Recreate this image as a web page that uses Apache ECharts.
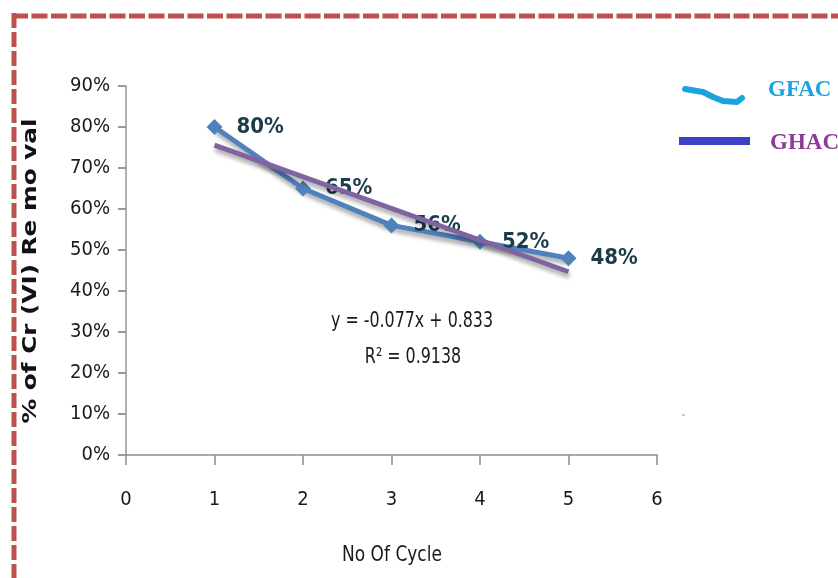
<!DOCTYPE html>
<html><head><meta charset="utf-8">
<script src="https://cdn.jsdelivr.net/npm/echarts@6/dist/echarts.min.js"></script>
<style>html,body{margin:0;padding:0;background:#fff;}#c{width:838px;height:578px;}</style>
</head><body><div id="c"></div>
<script>
const cycles = [1, 2, 3, 4, 5];
const gfacRemoval = [0.80, 0.65, 0.56, 0.52, 0.48];
const trendX = [1, 5];
const trendY = [0.756, 0.447];
const yTicks = ['0%','10%','20%','30%','40%','50%','60%','70%','80%','90%'];
const equationText = 'y = -0.077x + 0.833';
const r2Text = 'R² = 0.9138';
const legendNames = ['GFAC', 'GHAC'];

const NARROW = "'DejaVu Sans Condensed','Liberation Sans Narrow',sans-serif";
const chart = echarts.init(document.getElementById('c'), null, {renderer:'canvas'});
const shadow = {shadowColor:'rgba(0,0,0,0.35)', shadowBlur:4, shadowOffsetY:4, shadowOffsetX:1};
chart.setOption({
  animation:false,
  grid:{left:126, right:181, top:86, bottom:123},
  xAxis:{type:'value', min:0, max:6, interval:1,
    axisLine:{lineStyle:{color:'#8c8c8c', width:1.5}},
    axisTick:{show:true, length:10, lineStyle:{color:'#8c8c8c', width:1.5}},
    splitLine:{show:false},
    axisLabel:{margin:35, color:'#1a1a1a', fontSize:20, fontFamily:NARROW}
  },
  yAxis:{type:'value', min:0, max:0.9, interval:0.1,
    axisLine:{show:true, lineStyle:{color:'#b0b0b0', width:2}},
    axisTick:{show:true, length:8, lineStyle:{color:'#9a9a9a', width:2}},
    splitLine:{show:false},
    axisLabel:{margin:16, color:'#1a1a1a', fontSize:20, fontFamily:NARROW,
      formatter:(v)=>yTicks[Math.round(v*10)]}
  },
  series:[
    {type:'line', name:'GFAC', data:cycles.map((c,i)=>[c,gfacRemoval[i]]),
     lineStyle:Object.assign({color:'#4f81bd', width:5}, shadow),
     itemStyle:{color:'#4f81bd'}, symbol:'diamond', symbolSize:16,
     label:{show:true, position:'right', distance:14, color:'#1d3c4a', fontSize:22, fontWeight:'bold', fontFamily:NARROW,
       formatter:(p)=>Math.round(p.value[1]*100)+'%'},
     z:2},
    {type:'line', name:'Trend', data:trendX.map((x,i)=>[x,trendY[i]]),
     lineStyle:Object.assign({color:'#8064a2', width:5}, shadow),
     symbol:'none', z:3}
  ],
  graphic:[
    {type:'line', shape:{x1:12, y1:16, x2:840, y2:16}, style:{stroke:'#c0504d', lineWidth:5, lineDash:[16,3.5]}},
    {type:'line', shape:{x1:14, y1:13, x2:14, y2:580}, style:{stroke:'#c0504d', lineWidth:5, lineDash:[15,4]}},
    {type:'text', x:31, y:271, rotation:Math.PI/2, scaleX:1.3, style:{text:'% of Cr (VI) Re mo val', fill:'#111', font:"bold 19px 'DejaVu Sans'", textAlign:'center', textVerticalAlign:'middle'}},
    {type:'text', x:412, y:322, scaleX:0.84, style:{text:equationText, fill:'#1a1a1a', font:"21px "+NARROW, textAlign:'center', textVerticalAlign:'middle'}},
    {type:'text', x:413, y:358, scaleX:0.84, style:{text:r2Text, fill:'#1a1a1a', font:"21px "+NARROW, textAlign:'center', textVerticalAlign:'middle'}},
    {type:'text', x:392, y:555, scaleX:0.86, style:{text:'No Of Cycle', fill:'#1a1a1a', font:"22px "+NARROW, textAlign:'center', textVerticalAlign:'middle'}},
    {type:'polyline', shape:{points:[[685,89],[703,92],[713,97],[723,101],[737,102],[742,98]]}, style:{stroke:'#1aa3dd', lineWidth:6, fill:null, lineCap:'round', lineJoin:'round'}},
    {type:'rect', shape:{x:679, y:137, width:71, height:8}, style:{fill:'#4040c8'}},
    {type:'text', x:768, y:90, style:{text:legendNames[0], fill:'#1ba3e0', font:"bold 23px 'Liberation Serif'", textVerticalAlign:'middle'}},
    {type:'text', x:770, y:143, style:{text:legendNames[1], fill:'#8c3c96', font:"bold 23px 'Liberation Serif'", textVerticalAlign:'middle'}},
    {type:'line', shape:{x1:682, y1:415, x2:685, y2:415}, style:{stroke:'#999', lineWidth:1}}
  ]
});
</script></body></html>
